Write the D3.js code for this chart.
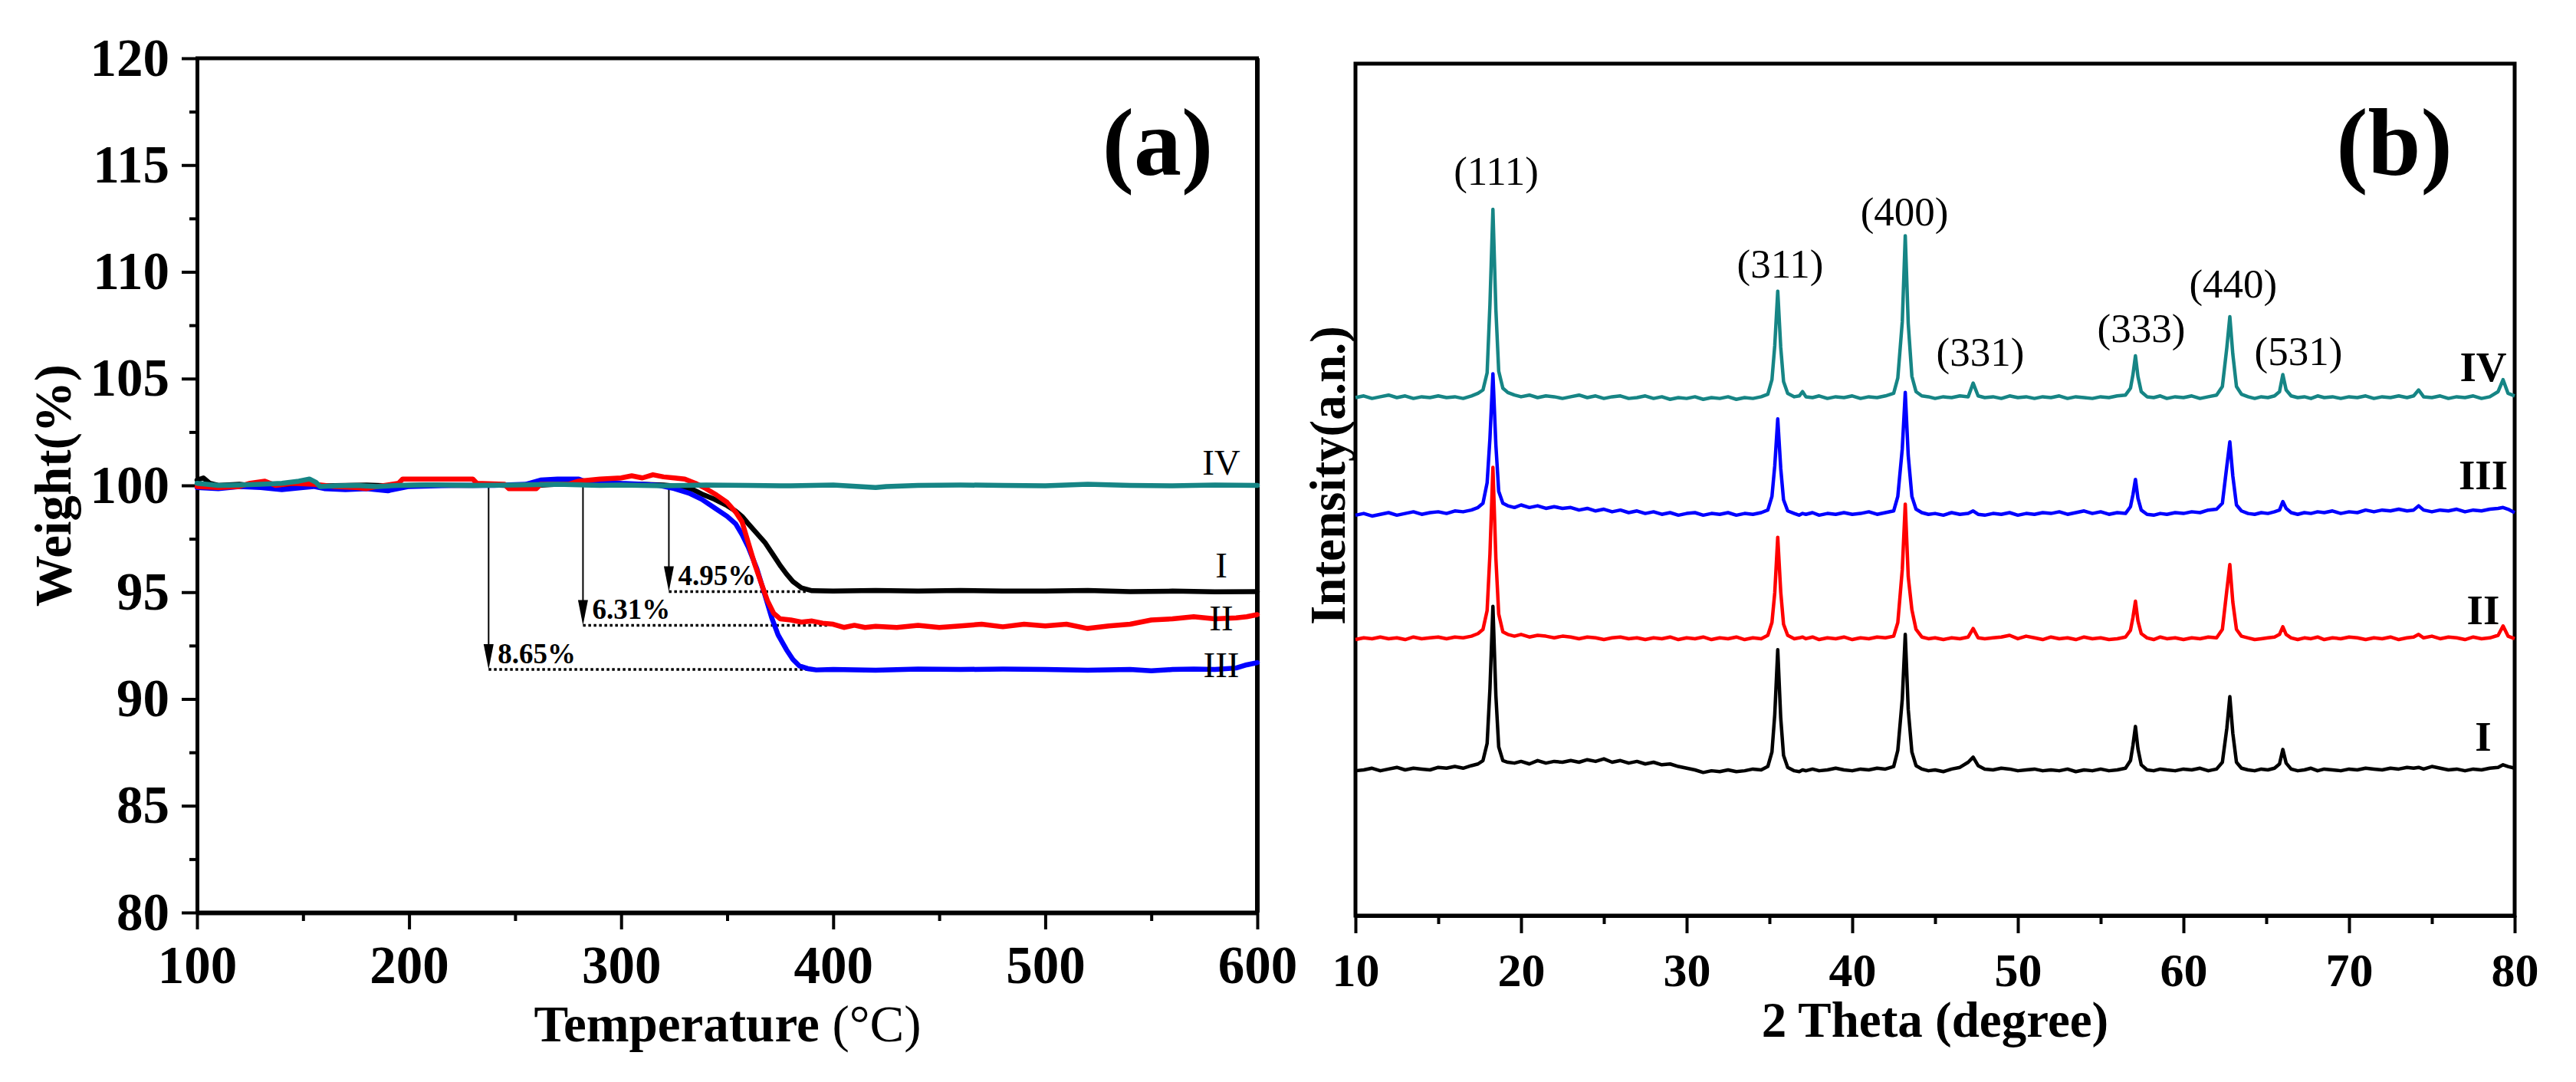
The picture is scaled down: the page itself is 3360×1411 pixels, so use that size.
<!DOCTYPE html>
<html><head><meta charset="utf-8">
<script src="https://cdn.jsdelivr.net/npm/d3@7"></script>
<style>
html,body{margin:0;padding:0;background:#fff;}
svg{display:block;}
text{font-family:"Liberation Serif","Times New Roman",serif;fill:#000;}
</style>
</head><body>
<svg id="chart" width="3360" height="1411"></svg>
<script>
// ---------------- Panel (a): TGA data ----------------
const tempTicks = [100, 200, 300, 400, 500, 600];
const tempMinorTicks = [150, 250, 350, 450, 550];
const weightTicks = [80, 85, 90, 95, 100, 105, 110, 115, 120];
const weightMinorTicks = [82.5, 87.5, 92.5, 97.5, 102.5, 107.5, 112.5, 117.5];

const tgaI = [[100,100.25],[103,100.35],[106,100.1],[110,100.0],[120,100.05],[130,99.95],[140,100.0],[150,100.05],[160,99.98],[170,100.0],[180,100.02],[190,99.98],[200,100.0],[210,100.02],[220,100.0],[230,100.0],[240,100.02],[250,99.98],[260,100.0],[270,100.05],[280,100.05],[290,100.05],[300,100.05],[310,100.05],[320,100.02],[328,99.95],[334,99.8],[338,99.6],[344,99.35],[350,99.05],[354,98.8],[357,98.55],[360,98.2],[364,97.75],[368,97.3],[372,96.7],[375,96.25],[378,95.85],[381,95.5],[385,95.2],[390,95.07],[400,95.05],[420,95.08],[440,95.05],[460,95.08],[480,95.05],[500,95.05],[520,95.08],[540,95.03],[560,95.05],[580,95.02],[600,95.03]];

const tgaII = [[100,99.95],[110,99.9],[120,99.95],[125,100.1],[132,100.2],[137,100.0],[145,100.1],[155,100.05],[165,99.95],[175,99.9],[180,99.85],[185,99.95],[195,100.1],[197,100.3],[215,100.3],[230,100.3],[232,100.1],[245,100.05],[247,99.85],[260,99.85],[262,100.05],[275,100.05],[280,100.2],[290,100.3],[300,100.35],[305,100.45],[310,100.35],[315,100.5],[320,100.4],[325,100.35],[330,100.3],[335,100.1],[340,99.85],[345,99.55],[350,99.2],[354,98.75],[357,98.3],[360,97.3],[363,96.3],[366,95.44],[369,94.6],[372,94.0],[375,93.75],[380,93.7],[385,93.6],[390,93.65],[395,93.55],[400,93.5],[405,93.35],[410,93.45],[415,93.35],[420,93.4],[430,93.35],[440,93.45],[450,93.35],[460,93.42],[470,93.5],[480,93.38],[490,93.5],[500,93.42],[510,93.5],[520,93.3],[530,93.42],[540,93.5],[550,93.7],[560,93.75],[570,93.85],[580,93.75],[590,93.8],[595,93.85],[600,93.95]];

const tgaIII = [[100,99.9],[110,99.85],[120,99.95],[130,99.9],[140,99.8],[150,99.9],[155,99.95],[160,99.85],[170,99.8],[180,99.85],[190,99.75],[195,99.85],[200,99.95],[220,100.0],[240,100.0],[255,100.05],[262,100.25],[270,100.3],[280,100.3],[285,100.1],[290,100.2],[300,100.1],[310,100.05],[318,100.0],[325,99.85],[332,99.64],[338,99.35],[344,98.95],[350,98.55],[354,98.2],[357,97.7],[360,97.1],[364,96.1],[368,94.8],[371,93.8],[374,93.0],[378,92.3],[381,91.85],[384,91.55],[388,91.42],[392,91.36],[400,91.38],[420,91.35],[440,91.4],[460,91.38],[480,91.4],[500,91.38],[520,91.35],[540,91.38],[550,91.32],[560,91.38],[570,91.4],[580,91.38],[590,91.45],[595,91.6],[600,91.7]];

const tgaIV = [[100,100.1],[110,100.0],[120,100.02],[130,100.05],[140,100.1],[148,100.2],[153,100.3],[156,100.15],[158,99.95],[165,99.98],[175,100.0],[185,99.95],[195,100.0],[210,100.03],[230,100.0],[250,100.02],[270,100.05],[290,100.0],[300,100.02],[320,99.98],[340,100.02],[360,100.0],[380,99.98],[400,100.02],[420,99.9],[425,99.95],[440,100.0],[460,100.02],[480,100.0],[500,99.98],[520,100.05],[540,100.0],[560,99.98],[580,100.02],[600,100.0]];

const lossLabels = ["4.95%", "6.31%", "8.65%"];
const lossStartTemp = [322.5, 282, 237.5];
const lossLevel = [95.03, 93.45, 91.38];
const lossEndTemp = [387, 398, 391];

// ---------------- Panel (b): XRD data ----------------
const thetaTicks = [10, 20, 30, 40, 50, 60, 70, 80];
const thetaMinorTicks = [15, 25, 35, 45, 55, 65, 75];

const twoTheta = [
10,10.5,11,11.5,12,12.5,13,13.5,14,14.5,
15,15.5,16,16.5,17,17.4,17.7,17.95,18.12,18.3,
18.48,18.65,18.9,19.2,19.6,20,20.5,21,21.5,22,
22.5,23,23.5,24,24.5,25,25.5,26,26.5,27,
27.5,28,28.5,29,29.5,30,30.5,31,31.5,32,
32.5,33,33.5,34,34.5,34.9,35.15,35.32,35.5,35.68,
35.85,36.1,36.5,36.8,37,37.2,37.6,38,38.5,39,
39.5,40,40.5,41,41.5,42,42.5,42.75,43.02,43.2,
43.38,43.6,43.85,44.2,44.6,45,45.5,46,46.5,47,
47.3,47.6,48,48.5,49,49.5,50,50.5,51,51.5,
52,52.5,53,53.5,54,54.5,55,55.5,56,56.5,
56.8,56.95,57.1,57.25,57.45,57.8,58.2,58.6,59,59.5,
60,60.5,61,61.5,62,62.35,62.62,62.8,62.98,63.2,
63.5,63.9,64.3,64.7,65.1,65.5,65.8,66,66.2,66.5,
66.9,67.3,67.7,68.1,68.5,69,69.5,70,70.5,71,
71.5,72,72.5,73,73.5,73.9,74.2,74.5,75,75.5,
76,76.5,77,77.5,78,78.5,79,79.3,79.6,80];

const xrdIV = [
1,3,0,2,4,1,3,0,2,1,
3,1,2,0,3,6,10,30,110,222,
104,32,12,7,4,2,4,1,3,2,
0,2,4,1,3,0,2,3,0,1,
3,0,2,-1,1,0,2,-1,1,0,
2,-1,1,0,2,5,22,62,126,60,
20,6,2,3,8,2,1,3,0,2,
1,3,0,2,1,3,6,24,90,191,
88,26,8,3,2,0,2,1,3,2,
18,3,1,2,0,3,1,2,0,2,
1,3,0,2,1,0,2,1,3,4,
12,28,50,26,8,2,1,3,0,2,
1,3,0,2,4,14,60,96,52,14,
5,2,0,2,1,3,8,28,10,3,
1,2,0,3,1,2,0,2,1,3,
0,2,1,3,1,3,10,2,1,3,
0,2,1,3,0,2,8,22,6,3];

const xrdIII = [
0,2,-1,1,3,0,2,4,1,3,
4,2,5,4,6,9,14,38,90,166,
82,28,14,11,9,12,9,11,8,10,
8,9,6,8,5,7,4,6,3,5,
2,4,1,3,0,2,3,0,2,1,
3,0,2,1,3,6,22,58,113,55,
18,5,2,0,2,1,3,0,2,1,
3,1,2,4,1,3,5,22,78,144,
70,22,7,3,1,2,0,3,1,2,
5,1,0,2,1,3,0,2,1,3,
2,4,1,3,5,2,4,1,3,2,
10,24,42,20,6,1,0,2,1,3,
2,4,3,6,7,14,58,86,46,12,
5,2,1,3,2,4,6,16,8,3,
1,3,2,4,3,5,2,4,3,6,
4,6,5,7,5,6,11,6,4,6,
5,7,4,6,5,7,8,9,7,3];

const xrdII = [
0,2,1,3,1,2,0,3,1,2,
3,1,3,2,4,7,12,34,100,202,
95,30,9,6,4,6,3,5,4,2,
4,3,1,3,2,0,2,3,1,2,
0,2,1,3,0,2,1,3,0,2,
1,3,0,2,1,5,20,55,120,56,
18,5,1,2,3,1,3,0,2,1,
3,0,2,1,3,2,4,20,82,159,
74,35,12,3,1,2,0,2,1,3,
13,2,1,2,3,5,1,4,2,0,
3,1,2,0,3,1,2,0,1,3,
11,26,45,22,7,2,0,3,1,2,
0,2,1,3,2,12,58,88,44,12,
4,2,0,1,2,3,6,15,6,2,
0,2,1,3,0,2,1,3,2,0,
2,1,3,0,2,3,6,2,4,1,
3,2,0,3,1,2,5,16,4,1];

const xrdI = [
0,1,3,0,2,4,1,3,2,1,
4,3,5,3,6,8,12,32,96,193,
88,28,12,10,9,11,8,12,9,11,
10,12,10,13,11,14,10,12,9,11,
8,10,7,8,5,3,1,-2,0,-1,
1,-1,0,2,1,5,22,66,142,62,
18,4,0,-1,1,0,2,0,1,3,
1,0,2,1,3,2,5,24,84,160,
72,22,6,2,0,1,-1,2,4,10,
16,6,2,1,3,2,0,1,2,0,
1,0,2,-1,1,0,2,0,1,3,
12,30,52,26,7,1,0,2,1,0,
2,1,3,0,2,10,50,87,44,10,
3,1,0,2,1,3,8,25,9,2,
0,1,3,0,2,1,0,2,1,3,
2,1,3,2,4,3,4,2,5,3,
1,2,0,2,1,3,4,7,5,3];

const sampleNames = ["I", "II", "III", "IV"];
const xrdOffsets = [170, 324, 470, 607];   // vertical stacking offsets (a.u.)
const peakLabels = ["(111)", "(311)", "(400)", "(331)", "(333)", "(440)", "(531)"];
const peakLabelTheta = [18.5, 35.65, 43.15, 47.73, 57.45, 63.0, 66.94];

// ---------------- Layout & styles ----------------
const colors = ["#000000", "#ff0000", "#0000ff", "#168585"];
const svg = d3.select("#chart");
svg.append("rect").attr("width", 3360).attr("height", 1411).attr("fill", "#fff");

const A = {left: 257, right: 1640, top: 76, bottom: 1190};
const B = {left: 1768, right: 3280, top: 83, bottom: 1194};

const xA = d3.scaleLinear().domain([100, 600]).range([A.left, A.right]);
const yA = d3.scaleLinear().domain([80, 120]).range([A.bottom, A.top]);
const xB = d3.scaleLinear().domain([10, 80]).range([B.left, B.right]);
const yB = d3.scaleLinear().domain([0, 1000]).range([B.bottom, B.top]);

function styleAxis(g, fontSize, w) {
  g.select(".domain").attr("stroke", "#000").attr("stroke-width", w);
  g.selectAll(".tick line").attr("stroke", "#000").attr("stroke-width", 4);
  g.selectAll(".tick text").attr("font-size", fontSize).attr("font-weight", "bold")
    .attr("font-family", '"Liberation Serif","Times New Roman",serif').attr("fill", "#000");
}

// ===== Panel (a) =====
const gA = svg.append("g");
gA.append("g").attr("transform", `translate(0,${A.bottom})`)
  .call(d3.axisBottom(xA).tickValues(tempMinorTicks).tickSize(11).tickFormat(""))
  .call(g => { g.select(".domain").remove(); g.selectAll(".tick line").attr("stroke-width", 4); });
gA.append("g").attr("transform", `translate(${A.left},0)`)
  .call(d3.axisLeft(yA).tickValues(weightMinorTicks).tickSize(10).tickFormat(""))
  .call(g => { g.select(".domain").remove(); g.selectAll(".tick line").attr("stroke-width", 4); });
gA.append("g").attr("transform", `translate(0,${A.bottom})`)
  .call(d3.axisBottom(xA).tickValues(tempTicks).tickSize(22).tickSizeOuter(0).tickPadding(21).tickFormat(d3.format("d")))
  .call(g => styleAxis(g, 69, 6));
gA.append("g").attr("transform", `translate(${A.left},0)`)
  .call(d3.axisLeft(yA).tickValues(weightTicks).tickSize(20).tickSizeOuter(0).tickPadding(16).tickFormat(d3.format("d")))
  .call(g => styleAxis(g, 69, 5));
gA.append("line").attr("x1", A.left - 2).attr("x2", A.right + 2).attr("y1", A.top).attr("y2", A.top)
  .attr("stroke", "#000").attr("stroke-width", 5);
gA.append("line").attr("x1", A.right).attr("x2", A.right).attr("y1", A.top).attr("y2", A.bottom)
  .attr("stroke", "#000").attr("stroke-width", 6);

// loss guides (drawn under curves)
const guides = gA.append("g");
lossLabels.forEach((lab, i) => {
  const x0 = xA(lossStartTemp[i]);
  const yTop = yA(100);
  const yTip = yA(lossLevel[i]);
  guides.append("line").attr("x1", x0).attr("x2", x0).attr("y1", yTop).attr("y2", yTip - 20)
    .attr("stroke", "#000").attr("stroke-width", 2);
  guides.append("path")
    .attr("d", `M${x0},${yTip} L${x0 - 6.5},${yTip - 33} L${x0 + 6.5},${yTip - 33} Z`)
    .attr("fill", "#000");
  guides.append("line").attr("x1", x0).attr("x2", xA(lossEndTemp[i])).attr("y1", yTip).attr("y2", yTip)
    .attr("stroke", "#000").attr("stroke-width", 3.5).attr("stroke-dasharray", "3.5,3.5");
  guides.append("text").attr("x", x0 + 12).attr("y", yTip - 8)
    .attr("font-size", 37).attr("font-weight", "bold").text(lab);
});

const lineA = d3.line().x(d => xA(d[0])).y(d => yA(d[1]));
const tgaSeries = [tgaI, tgaII, tgaIII, tgaIV];
const tgaOrder = [0, 2, 1, 3];
tgaOrder.forEach(i => {
  gA.append("path").datum(tgaSeries[i]).attr("d", lineA)
    .attr("fill", "none").attr("stroke", colors[i]).attr("stroke-width", 6.5)
    .attr("stroke-linejoin", "round").attr("stroke-linecap", "round");
});

const tgaLabelPos = [[583, 95.69], [583, 93.21], [583, 91.02], [583, 100.5]];
sampleNames.forEach((n, i) => {
  gA.append("text").attr("x", xA(tgaLabelPos[i][0])).attr("y", yA(tgaLabelPos[i][1]))
    .attr("text-anchor", "middle").attr("font-size", 47).text(n);
});

gA.append("text").attr("x", 1510).attr("y", 228).attr("text-anchor", "middle")
  .attr("font-size", 124).attr("font-weight", "bold").text("(a)");

const tA = gA.append("text").attr("x", 949).attr("y", 1358).attr("text-anchor", "middle")
  .attr("font-size", 67).attr("font-weight", "bold");
tA.append("tspan").text("Temperature ");
tA.append("tspan").attr("font-weight", "normal").text("(°C)");

gA.append("text").attr("transform", "translate(92,633) rotate(-90)").attr("text-anchor", "middle")
  .attr("font-size", 67).attr("font-weight", "bold").text("Weight(%)");

// ===== Panel (b) =====
const gB = svg.append("g");
gB.append("g").attr("transform", `translate(0,${B.bottom})`)
  .call(d3.axisBottom(xB).tickValues(thetaMinorTicks).tickSize(11).tickFormat(""))
  .call(g => { g.select(".domain").remove(); g.selectAll(".tick line").attr("stroke-width", 4); });
gB.append("g").attr("transform", `translate(0,${B.bottom})`)
  .call(d3.axisBottom(xB).tickValues(thetaTicks).tickSize(23).tickSizeOuter(0).tickPadding(25).tickFormat(d3.format("d")))
  .call(g => styleAxis(g, 62, 5));
gB.append("rect").attr("x", B.left).attr("y", B.top).attr("width", B.right - B.left).attr("height", B.bottom - B.top)
  .attr("fill", "none").attr("stroke", "#000").attr("stroke-width", 5);

const xrdSeries = [xrdI, xrdII, xrdIII, xrdIV];
const xrdOrder = [3, 2, 1, 0];
xrdOrder.forEach(i => {
  const vals = xrdSeries[i];
  const n = Math.min(vals.length, twoTheta.length);
  const pts = d3.range(n).map(k => [twoTheta[k], vals[k] + xrdOffsets[i]]);
  gB.append("path").datum(pts)
    .attr("d", d3.line().x(d => xB(d[0])).y(d => yB(d[1])))
    .attr("fill", "none").attr("stroke", colors[i]).attr("stroke-width", 4.5)
    .attr("stroke-linejoin", "round");
});

const peakLabelY = [241, 362, 294, 477, 446, 388, 476];
peakLabels.forEach((lab, i) => {
  gB.append("text").attr("x", xB(peakLabelTheta[i])).attr("y", peakLabelY[i])
    .attr("text-anchor", "middle").attr("font-size", 53).text(lab);
});

const xrdLabelY = [979, 814, 638, 497];
sampleNames.forEach((n, i) => {
  gB.append("text").attr("x", 3239).attr("y", xrdLabelY[i]).attr("text-anchor", "middle")
    .attr("font-size", 55).attr("font-weight", "bold").text(n);
});

gB.append("text").attr("x", 3123).attr("y", 228).attr("text-anchor", "middle")
  .attr("font-size", 124).attr("font-weight", "bold").text("(b)");
gB.append("text").attr("x", (B.left + B.right) / 2).attr("y", 1352).attr("text-anchor", "middle")
  .attr("font-size", 65).attr("font-weight", "bold").text("2 Theta (degree)");
gB.append("text").attr("transform", "translate(1754,620) rotate(-90)").attr("text-anchor", "middle")
  .attr("font-size", 65).attr("font-weight", "bold").text("Intensity(a.n.)");
</script>
</body></html>
